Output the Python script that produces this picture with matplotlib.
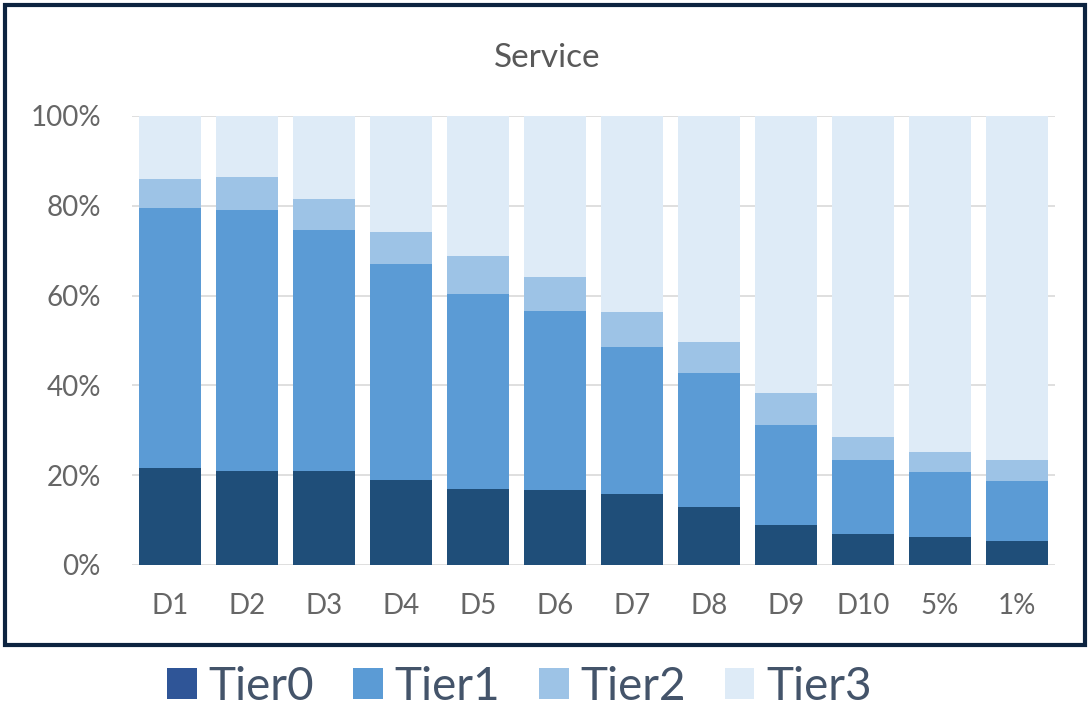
import numpy as np
import matplotlib
matplotlib.use("Agg")
import matplotlib.pyplot as plt
from matplotlib.patches import Patch, Rectangle

plt.rcParams['font.family'] = ['Lato', 'DejaVu Sans']

# data (percent of each bar)
categories = ['D1', 'D2', 'D3', 'D4', 'D5', 'D6', 'D7', 'D8', 'D9', 'D10', '5%', '1%']
tier0 = [21.6, 20.9, 20.9, 18.9, 16.9, 16.7, 15.8, 12.9, 8.9, 6.9, 6.2, 5.3]
tier1 = [57.9, 58.2, 53.7, 48.1, 43.5, 39.9, 32.8, 29.9, 22.3, 16.5, 14.5, 13.4]
tier2 = [6.5, 7.3, 6.9, 7.2, 8.4, 7.5, 7.7, 6.9, 7.1, 5.1, 4.5, 4.7]
tier3 = [14.0, 13.6, 18.5, 25.8, 31.2, 35.9, 43.7, 50.3, 61.7, 71.5, 74.8, 76.6]
tier_names = ['Tier0', 'Tier1', 'Tier2', 'Tier3']

bar_colors = ['#1f4e79', '#5b9bd5', '#9dc3e6', '#deebf7']
legend_colors = ['#2f5597', '#5b9bd5', '#9dc3e6', '#deebf7']

fig = plt.figure(figsize=(10.89, 7.08), dpi=100)
ax = fig.add_axes([0.1208, 0.2020, 0.8484, 0.6342])

x = np.arange(len(categories))
bottom = np.zeros(len(categories))
for vals, col in zip([tier0, tier1, tier2, tier3], bar_colors):
    ax.bar(x, vals, bottom=bottom, width=0.8, color=col, zorder=3)
    bottom += np.array(vals)

ax.set_xlim(-0.5, len(categories) - 0.5)
ax.set_ylim(0, 100)
ax.set_yticks(range(0, 101, 20))
ax.set_yticklabels([f'{v}%' for v in range(0, 101, 20)])
ax.set_xticks(x)
ax.set_xticklabels(categories)
ax.tick_params(axis='both', length=0, labelsize=20, colors='#666666')
ax.tick_params(axis='x', pad=20)
ax.tick_params(axis='y', pad=22)
ax.grid(axis='y', color='#d9d9d9', linewidth=1.2, zorder=0)
for s in ax.spines.values():
    s.set_visible(False)

fig.text(0.5025, 0.918, 'Service', ha='center', va='center', fontsize=24, color='#595959')

# frame round the chart
fig.patches.append(Rectangle((5 / 1089, 1 - 645 / 708), 1080 / 1089, 640 / 708,
                             transform=fig.transFigure, fill=False,
                             edgecolor='#0c2340', linewidth=3))

handles = [Patch(facecolor=c, edgecolor='none') for c in legend_colors]
fig.legend(handles, tier_names, loc='center', bbox_to_anchor=(0.477, 0.030),
           ncol=4, frameon=False, fontsize=33, handlelength=0.65, handleheight=0.65,
           handletextpad=0.25, columnspacing=0.85, labelcolor='#44546a')

fig.savefig('out.png', dpi=100)
